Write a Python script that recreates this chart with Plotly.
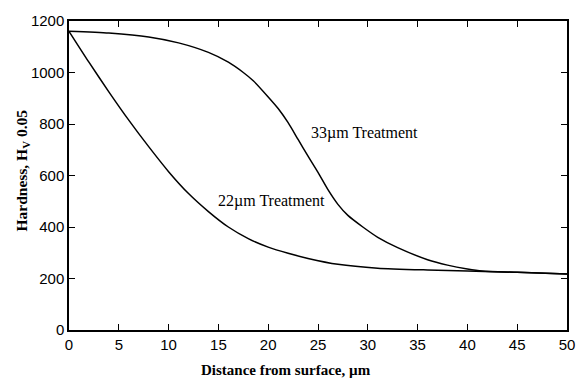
import plotly.graph_objects as go

# Data
x33 = [0, 4, 8, 11, 14, 16, 17.5, 18.5, 20, 21, 22, 23, 24, 25, 26, 27, 28, 29.5, 31, 33, 36, 38, 40, 41.5, 45, 50]
y33 = [1160, 1153, 1138, 1115, 1078, 1040, 1000, 968, 905, 860, 805, 740, 675, 612, 545, 488, 445, 400, 360, 320, 273, 252, 237, 229, 224, 217]

x22 = [0, 2, 4, 6, 8, 10, 12, 14, 16, 18, 20, 22, 24, 27, 31, 36, 40, 45, 50]
y22 = [1160, 1040, 925, 815, 712, 615, 530, 460, 400, 355, 322, 298, 278, 255, 240, 233, 229, 224, 217]

label_text = ["33\u00b5m Treatment", "22\u00b5m Treatment"]
label_x = [29.7, 20.3]
label_y = [764, 501]

x_ticks = [0, 5, 10, 15, 20, 25, 30, 35, 40, 45, 50]
y_ticks = [0, 200, 400, 600, 800, 1000, 1200]

fig = go.Figure()
for xs, ys in [(x33, y33), (x22, y22)]:
    fig.add_trace(go.Scatter(x=xs, y=ys, mode="lines",
                             line=dict(color="black", width=1.5, shape="spline", smoothing=0.6),
                             showlegend=False, hoverinfo="skip"))

for t, lx, ly in zip(label_text, label_x, label_y):
    fig.add_annotation(x=lx, y=ly, text=t, showarrow=False,
                       font=dict(family="Liberation Serif", size=16, color="black"))

# axis titles as paper annotations
fig.add_annotation(xref="paper", yref="paper", x=0.435, y=0, yshift=-40,
                   text="<b>Distance from surface, \u00b5m</b>", showarrow=False,
                   xanchor="center", yanchor="middle",
                   font=dict(family="Liberation Serif", size=15, color="black"))
fig.add_annotation(xref="paper", yref="paper", x=0, xshift=-47, y=0.5, yshift=5,
                   text="<b>Hardness, H<sub>V</sub> 0.05</b>", showarrow=False, textangle=-90,
                   xanchor="center", yanchor="middle",
                   font=dict(family="Liberation Serif", size=15.5, color="black"))

axis_common = dict(showline=True, linecolor="black", linewidth=1.5, mirror="ticks",
                   ticks="inside", ticklen=6, tickwidth=1, tickcolor="black",
                   showgrid=False, zeroline=False, automargin=False,
                   tickfont=dict(family="Liberation Sans", size=15, color="black"))

fig.update_xaxes(range=[0, 50], tickvals=x_ticks, **axis_common)
fig.update_yaxes(range=[0, 1200], tickvals=y_ticks, **axis_common)

fig.update_layout(width=586, height=380, margin=dict(l=69, r=19, t=21, b=50),
                  paper_bgcolor="white", plot_bgcolor="white")

fig.write_html("out.html")
